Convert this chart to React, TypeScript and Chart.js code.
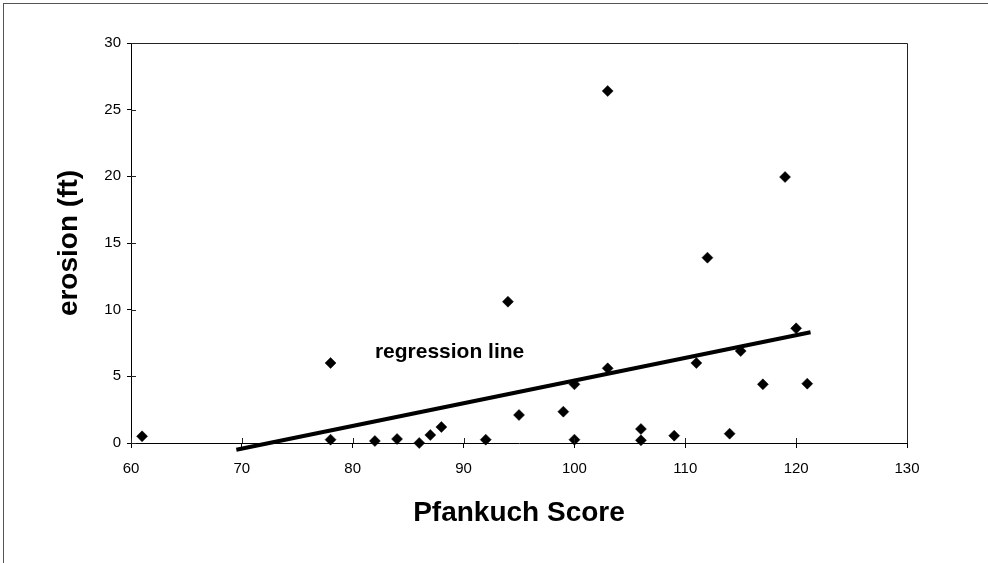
import React, { useEffect, useRef } from "react";
import { Chart, registerables } from "chart.js";

Chart.register(...registerables);

const pfankuchScores = [61, 78, 78, 82, 84, 86, 87, 88, 92, 94, 95, 99, 100, 100, 103, 103, 106, 106, 109, 111, 112, 114, 115, 117, 119, 120, 121];
const erosionFt = [0.5, 6.0, 0.25, 0.15, 0.3, 0.0, 0.6, 1.2, 0.25, 10.6, 2.1, 2.35, 4.4, 0.25, 5.6, 26.4, 1.05, 0.2, 0.55, 6.0, 13.9, 0.7, 6.9, 4.4, 19.95, 8.6, 4.45];

const regressionX = [69.5, 121.3];
const regressionY = [-0.5, 8.3];

const regressionLabel = "regression line";
const regressionLabelAt = { x: 82, y: 6.8 };

const xTitle = "Pfankuch Score";
const yTitle = "erosion (ft)";

const FONT = "'Liberation Sans', Arial, sans-serif";

const framePlugin = {
  id: "framePlugin",
  afterDraw(chart: any) {
    const { ctx, chartArea, scales } = chart;
    ctx.save();
    ctx.strokeStyle = "#222";
    ctx.lineWidth = 1;
    ctx.beginPath();
    ctx.moveTo(chartArea.left, chartArea.top + 0.5);
    ctx.lineTo(chartArea.right + 0.5, chartArea.top + 0.5);
    ctx.lineTo(chartArea.right + 0.5, chartArea.bottom);
    ctx.stroke();
    const xs = scales.x;
    const ys = scales.y;
    ctx.beginPath();
    xs.ticks.forEach((t: any) => {
      const px = Math.round(xs.getPixelForValue(t.value)) + 0.5;
      ctx.moveTo(px, chartArea.bottom);
      ctx.lineTo(px, chartArea.bottom - 5);
    });
    ys.ticks.forEach((t: any) => {
      const py = Math.round(ys.getPixelForValue(t.value)) + 0.5;
      ctx.moveTo(chartArea.left, py);
      ctx.lineTo(chartArea.left + 5, py);
    });
    ctx.stroke();
    ctx.fillStyle = "#000";
    ctx.font = `bold 21px ${FONT}`;
    ctx.textAlign = "left";
    ctx.textBaseline = "middle";
    ctx.fillText(
      regressionLabel,
      xs.getPixelForValue(regressionLabelAt.x),
      ys.getPixelForValue(regressionLabelAt.y)
    );
    ctx.restore();
  },
};

export default function App() {
  const canvasRef = useRef<HTMLCanvasElement | null>(null);

  useEffect(() => {
    if (!canvasRef.current) return;
    const chart = new Chart(canvasRef.current, {
      type: "scatter",
      data: {
        datasets: [
          {
            type: "scatter",
            label: "erosion",
            data: pfankuchScores.map((x, i) => ({ x, y: erosionFt[i] })),
            pointStyle: "rectRot",
            pointRadius: 5.5,
            pointBackgroundColor: "#000",
            pointBorderColor: "#000",
            pointBorderWidth: 0.5,
            clip: false,
          } as any,
          {
            type: "line",
            label: "regression",
            data: regressionX.map((x, i) => ({ x, y: regressionY[i] })),
            borderColor: "#000",
            borderWidth: 4,
            pointRadius: 0,
            fill: false,
            clip: false,
            borderCapStyle: "butt",
          } as any,
        ],
      },
      options: {
        animation: false,
        responsive: false,
        maintainAspectRatio: false,
        layout: { padding: { top: 43, right: 81, bottom: 0, left: 0 } },
        plugins: {
          legend: { display: false },
          tooltip: { enabled: false },
        },
        scales: {
          x: {
            type: "linear",
            min: 60,
            max: 130,
            afterFit: (s: any) => {
              s.height = 120;
            },
            ticks: {
              stepSize: 10,
              color: "#000",
              font: { family: FONT, size: 15 },
              padding: 12,
              maxRotation: 0,
            },
            grid: {
              drawOnChartArea: false,
              color: "#000",
              tickLength: 5,
              tickColor: "#000",
            },
            border: { color: "#000", width: 1 },
            title: {
              display: true,
              text: xTitle,
              color: "#000",
              font: { family: FONT, size: 28, weight: "bold" },
              padding: { top: 0, bottom: 33 },
            },
          },
          y: {
            type: "linear",
            min: 0,
            max: 30,
            afterFit: (s: any) => {
              s.width = 131;
            },
            ticks: {
              stepSize: 5,
              color: "#000",
              font: { family: FONT, size: 15 },
              padding: 6,
            },
            grid: {
              drawOnChartArea: false,
              color: "#000",
              tickLength: 4,
              tickColor: "#000",
            },
            border: { color: "#000", width: 1 },
            title: {
              display: true,
              text: yTitle,
              color: "#000",
              font: { family: FONT, size: 28, weight: "bold" },
              padding: { top: 52, bottom: 0 },
            },
          },
        },
      },
      plugins: [framePlugin],
    } as any);
    return () => chart.destroy();
  }, []);

  return (
    <div style={{ position: "fixed", left: 0, top: 0, width: 988, height: 563, background: "#fff" }}>
      <div
        style={{
          position: "absolute",
          left: 3,
          top: 3,
          right: 0,
          bottom: 0,
          borderLeft: "1px solid #555",
          borderTop: "1px solid #555",
        }}
      />
      <canvas ref={canvasRef} width={988} height={563} style={{ position: "absolute", left: 0, top: 0 }} />
    </div>
  );
}
